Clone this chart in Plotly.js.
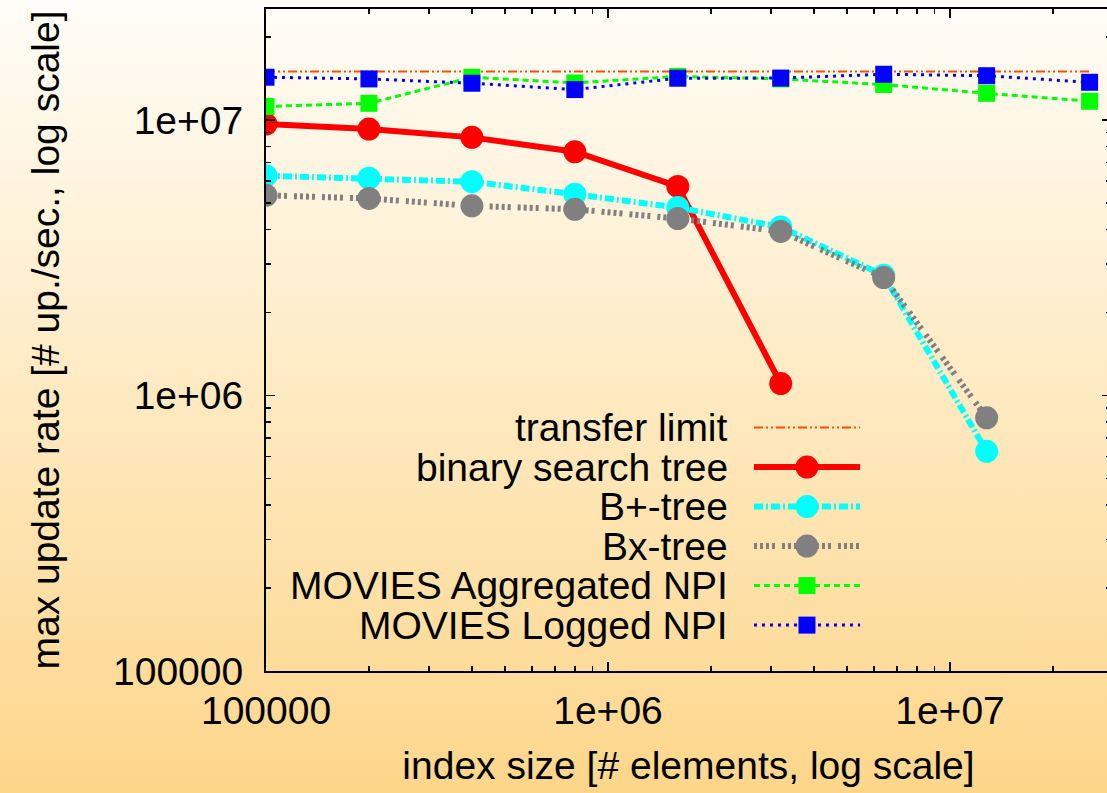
<!DOCTYPE html>
<html>
<head>
<meta charset="utf-8">
<script src="https://cdn.plot.ly/plotly-3.0.1.min.js"></script>
<style>
html, body {
  margin: 0; padding: 0; width: 1107px; height: 793px; overflow: hidden;
  background: linear-gradient(to bottom, #fffdf8 0%, #fdd68a 100%);
}
#chart { width: 1115px; height: 793px; }
</style>
</head>
<body>
<div id="chart"></div>
<script>
// ---- data ----
const indexSize = [1e5, 2e5, 4e5, 8e5, 1.6e6, 3.2e6, 6.4e6, 1.28e7, 2.56e7];
const transferLimit = [1.5e7, 1.5e7, 1.5e7, 1.5e7, 1.5e7, 1.5e7, 1.5e7, 1.5e7, 1.5e7];
const binarySearchTree = [9.67e6, 9.27e6, 8.65e6, 7.67e6, 5.74e6, 1.105e6];
const bPlusTree = [6.28e6, 6.15e6, 5.97e6, 5.38e6, 4.81e6, 4.09e6, 2.73e6, 6.27e5];
const bxTree = [5.33e6, 5.19e6, 4.88e6, 4.74e6, 4.39e6, 3.94e6, 2.68e6, 8.3e5];
const moviesAggregatedNPI = [1.12e7, 1.15e7, 1.43e7, 1.363e7, 1.44e7, 1.41e7, 1.345e7, 1.25e7, 1.17e7];
const moviesLoggedNPI = [1.43e7, 1.41e7, 1.36e7, 1.29e7, 1.418e7, 1.42e7, 1.466e7, 1.448e7, 1.371e7];

const seriesNames = ['transfer limit', 'binary search tree', 'B+-tree', 'Bx-tree',
                     'MOVIES Aggregated NPI', 'MOVIES Logged NPI'];
const seriesValues = [transferLimit, binarySearchTree, bPlusTree, bxTree,
                      moviesAggregatedNPI, moviesLoggedNPI];

const xTickVals = [1e5, 1e6, 1e7];
const xTickText = ['100000', '1e+06', '1e+07'];
const yTickVals = [1e5, 1e6, 1e7];
const yTickText = ['100000', '1e+06', '1e+07'];
const xTitle = 'index size [# elements, log scale]';
const yTitle = 'max update rate [# up./sec., log scale]';

// ---- styles ----
const styles = [
  {color: '#ff4d00', width: 2.2, dash: '9px,3px,2px,3px,2px,3px', mode: 'lines', symbol: 'circle', size: 0},
  {color: '#ff0000', width: 6, dash: 'solid', mode: 'lines+markers', symbol: 'circle', size: 23},
  {color: '#00ffff', width: 6, dash: '9px,3px,2px,3px', mode: 'lines+markers', symbol: 'circle', size: 23},
  {color: '#808080', width: 6, dash: '3px,3px,3px,3px,3px,3px,3px,7px', mode: 'lines+markers', symbol: 'circle', size: 23},
  {color: '#00ff00', width: 3, dash: '6px,4px', mode: 'lines+markers', symbol: 'square', size: 17},
  {color: '#0000ff', width: 3, dash: '3px,5px', mode: 'lines+markers', symbol: 'square', size: 17}
];

const FONT = '"Liberation Sans", Arial, Helvetica, sans-serif';
const FS = 39;

// minor tick positions (2..9 of each decade)
function minorTicks(lo, hi) {
  const out = [];
  for (let d = lo; d <= hi; d++) for (let m = 2; m <= 9; m++) out.push(m * Math.pow(10, d));
  return out;
}

const traces = [];
seriesNames.forEach((name, i) => {
  const s = styles[i];
  const vals = seriesValues[i];
  traces.push({
    type: 'scatter', name: name,
    x: indexSize.slice(0, vals.length), y: vals,
    mode: s.mode,
    line: {color: s.color, width: s.width, dash: s.dash},
    marker: {color: s.color, size: s.size, symbol: s.symbol, opacity: 1, line: {width: 0}},
    showlegend: false, hoverinfo: 'x+y'
  });
});

// ---- hand-built key (text left of the sample, as in the reference) ----
const keyRow0 = 0.3678, keyStep = 0.0597;
const keyX0 = 0.5775, keyXm = 0.6402, keyX1 = 0.7030, keyTextX = 0.549;
const annotations = [];
seriesNames.forEach((name, i) => {
  const s = styles[i];
  const ky = keyRow0 - i * keyStep;
  traces.push({
    type: 'scatter', xaxis: 'x2', yaxis: 'y2',
    x: [keyX0, keyX1], y: [ky, ky],
    mode: 'lines',
    line: {color: s.color, width: s.width, dash: s.dash},
    showlegend: false, hoverinfo: 'skip'
  });
  if (s.size > 0) {
    traces.push({
      type: 'scatter', xaxis: 'x2', yaxis: 'y2',
      x: [keyXm], y: [ky], mode: 'markers',
      marker: {color: s.color, size: s.size, symbol: s.symbol, opacity: 1, line: {width: 0}},
      showlegend: false, hoverinfo: 'skip'
    });
  }
  annotations.push({
    xref: 'x2', yref: 'y2', x: keyTextX, y: ky, xanchor: 'right', yanchor: 'middle',
    text: name, showarrow: false, font: {family: FONT, size: FS, color: '#000'}
  });
});

const axisCommon = {
  type: 'log', showline: true, linecolor: '#000', linewidth: 2, mirror: 'ticks',
  ticks: 'inside', ticklen: 9, tickwidth: 1.5, tickcolor: '#000',
  showgrid: false, zeroline: false, automargin: false,
  tickfont: {family: FONT, size: FS, color: '#000'}
};

const layout = {
  width: 1115, height: 793,
  margin: {l: 266, r: 4, t: 9, b: 122},
  paper_bgcolor: 'rgba(0,0,0,0)', plot_bgcolor: 'rgba(0,0,0,0)',
  font: {family: FONT, size: FS, color: '#000'},
  showlegend: false,
  xaxis: Object.assign({}, axisCommon, {
    range: [5, 7.4708], tickmode: 'array', tickvals: xTickVals, ticktext: xTickText,
    ticklabelstandoff: 4,
    minor: {tickmode: 'array', tickvals: minorTicks(5, 7), ticks: 'inside', ticklen: 5,
            tickwidth: 1.5, tickcolor: '#000', showgrid: false},
    title: {text: xTitle, font: {family: FONT, size: FS, color: '#000'}, standoff: 21}
  }),
  yaxis: Object.assign({}, axisCommon, {
    range: [5, 7.403], tickmode: 'array', tickvals: yTickVals, ticktext: yTickText,
    ticklabelstandoff: 13,
    minor: {tickmode: 'array', tickvals: minorTicks(5, 7), ticks: 'inside', ticklen: 5,
            tickwidth: 1.5, tickcolor: '#000', showgrid: false},
    title: {text: yTitle, font: {family: FONT, size: FS, color: '#000'}, standoff: 41}
  }),
  xaxis2: {overlaying: 'x', range: [0, 1], visible: false, fixedrange: true},
  yaxis2: {overlaying: 'y', range: [0, 1], visible: false, fixedrange: true},
  annotations: annotations
};

Plotly.newPlot('chart', traces, layout, {displayModeBar: false, staticPlot: true});
</script>
</body>
</html>
